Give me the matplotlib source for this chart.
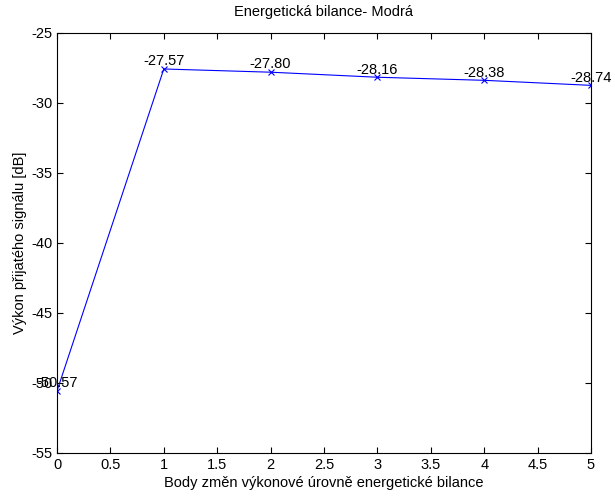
import matplotlib
matplotlib.use('Agg')
import matplotlib.pyplot as plt

body = [0, 1, 2, 3, 4, 5]
vykon = [-50.57, -27.57, -27.80, -28.16, -28.38, -28.74]
popisky = ['-50.57', '-27.57', '-27.80', '-28.16', '-28.38', '-28.74']

plt.rcParams['font.family'] = 'Liberation Sans'
plt.rcParams['font.size'] = 10
plt.rcParams['axes.unicode_minus'] = False

fig = plt.figure(figsize=(6.15, 4.96), dpi=100)
ax = fig.add_axes([57 / 615, 1 - 453 / 496, (591 - 57) / 615, (453 - 33) / 496])

ax.plot(body, vykon, color='blue', linewidth=0.8, marker='x', markersize=4, markeredgewidth=0.8)
for x, y, t in zip(body, vykon, popisky):
    ax.text(x, y + 0.05, t, ha='center', va='bottom', fontsize=10.5)

ax.set_xlim(0, 5)
ax.set_ylim(-55, -25)
ax.set_xticks([0, 0.5, 1, 1.5, 2, 2.5, 3, 3.5, 4, 4.5, 5])
ax.set_xticklabels(['0', '0.5', '1', '1.5', '2', '2.5', '3', '3.5', '4', '4.5', '5'])
ax.set_yticks(range(-55, -24, 5))
ax.tick_params(direction='in', top=True, right=True, length=4, labelsize=10.5)

ax.set_xlabel('Body změn výkonové úrovně energetické bilance', fontsize=10.5, labelpad=3)
ax.set_ylabel('Výkon přijatého signálu [dB]', fontsize=10.5, labelpad=3)
ax.set_title('Energetická bilance- Modrá', fontsize=10.5, pad=12)

fig.savefig('out.png', dpi=100)
